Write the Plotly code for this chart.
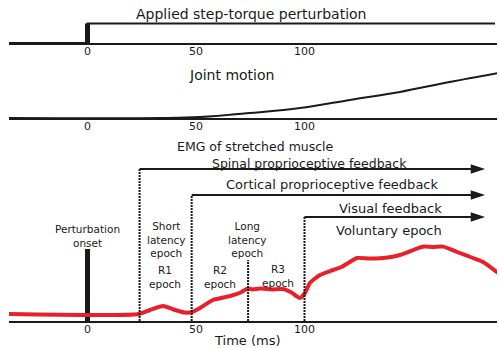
import plotly.graph_objects as go

# ---------------- data ----------------
tick_vals = [0, 50, 100]
tick_text = ["0", "50", "100"]

# applied torque (normalised step at t = 0)
torque_t = [-36.2, 0, 0, 187.8]
torque_v = [0, 0, 1, 1]

# joint motion (normalised)
joint_t = [-36.2, 33.4, 51.8, 74.9, 97.9, 120.9, 144.0, 166.8, 189.2]
joint_v = [0, 0, 0.02, 0.11, 0.22, 0.40, 0.58, 0.80, 1.00]

# EMG of stretched muscle (a.u.)
emg_t = [-37.1, 23.7, 28.8, 34.8, 40.3, 44.9, 48.2, 51.8, 57.8, 65.7, 70.0, 74.0,
         76.0, 79.5, 85.0, 90.1, 94.0, 97.9, 100.2, 102.5, 107.1, 113.1, 117.0,
         120.9, 124.2, 130.0, 136.2, 140.0, 144.0, 151.8, 155.0, 159.3, 163.9,
         170.3, 177.6, 182.3, 189.2]
emg_v = [0.35, 0.35, 0.55, 0.75, 0.55, 0.42, 0.45, 0.65, 1.05, 1.25, 1.40, 1.62,
         1.58, 1.62, 1.58, 1.60, 1.42, 1.15, 1.40, 1.90, 2.30, 2.55, 2.70,
         2.95, 3.15, 3.12, 3.15, 3.20, 3.30, 3.62, 3.72, 3.70, 3.72,
         3.45, 3.15, 2.95, 2.40]

onset_t = 0
onset_h = 3.6
# epoch boundaries as drawn (ms)
spinal_t = 24
cortical_t = 48
r3_t = 74
visual_t = 100
arrow_end_t = 183.2
feedback_levels = [7.6, 6.3, 5.2]
r3_top = 3.05

W, H = 499, 348
INK = "#1a1a1a"
FONT = "DejaVu Sans"


def px2x(px):
    return px / W


def px2y(py):
    return 1 - py / H


fig = go.Figure()

# top panel: step torque
fig.add_trace(go.Scatter(x=torque_t, y=torque_v, mode="lines",
                         line=dict(color=INK, width=2), xaxis="x", yaxis="y"))
fig.add_trace(go.Scatter(x=[onset_t, onset_t], y=[0, 1], mode="lines",
                         line=dict(color=INK, width=5), xaxis="x", yaxis="y"))

# middle panel: joint motion
fig.add_trace(go.Scatter(x=joint_t, y=joint_v, mode="lines", line_shape="spline",
                         line=dict(color=INK, width=2), xaxis="x2", yaxis="y2"))

# bottom panel: EMG
fig.add_trace(go.Scatter(x=[onset_t, onset_t], y=[0, onset_h], mode="lines",
                         line=dict(color=INK, width=5), xaxis="x3", yaxis="y3"))

# feedback onsets: dotted verticals + arrows
starts = [spinal_t, cortical_t, visual_t]
shapes = []
for t0, yl in zip(starts, feedback_levels):
    shapes.append(dict(type="line", xref="x3", yref="y3", x0=t0, x1=t0, y0=0, y1=yl,
                       line=dict(color=INK, width=2, dash="2px,1px")))
    shapes.append(dict(type="line", xref="x3", yref="y3", x0=t0, x1=arrow_end_t - 3,
                       y0=yl, y1=yl, line=dict(color=INK, width=2)))
shapes.append(dict(type="line", xref="x3", yref="y3", x0=r3_t, x1=r3_t, y0=0, y1=r3_top,
                   line=dict(color=INK, width=2, dash="2px,1px")))

fig.add_trace(go.Scatter(x=[arrow_end_t] * 3, y=feedback_levels, mode="markers",
                         marker=dict(symbol="arrow", angle=90, size=15, color=INK,
                                     line=dict(width=0)),
                         xaxis="x3", yaxis="y3", cliponaxis=False))

fig.add_trace(go.Scatter(x=emg_t, y=emg_v, mode="lines", line_shape="spline",
                         line=dict(color="#e8202a", width=4, smoothing=0.6),
                         xaxis="x3", yaxis="y3"))

texts = [
    ("Applied step-torque perturbation", 251, 14, 14),
    ("Joint motion", 231, 75, 14),
    ("EMG of stretched muscle", 256, 146, 12.5),
    ("Spinal proprioceptive feedback", 309, 163, 12.5),
    ("Cortical proprioceptive feedback", 332, 184, 13),
    ("Visual feedback", 390, 208, 13),
    ("Voluntary epoch", 389, 230, 13),
    ("Perturbation<br>onset", 87, 236, 10.5),
    ("Short<br>latency<br>epoch", 166, 239, 10.5),
    ("Long<br>latency<br>epoch", 247, 239, 10.5),
    ("R1<br>epoch", 165, 277, 10.5),
    ("R2<br>epoch", 220, 277, 10.5),
    ("R3<br>epoch", 278, 276, 10.5),
    ("Time (ms)", 247, 340, 13),
]
annotations = []
for s, x, y, fs in texts:
    annotations.append(dict(x=px2x(x), y=px2y(y), xref="paper", yref="paper",
                            text=s, showarrow=False, xanchor="center", yanchor="middle",
                            font=dict(family=FONT, size=fs, color=INK)))

xr = [(9 - 87.5) / 2.17, (497 - 87.5) / 2.17]
xdom = [9 / W, 497 / W]
xcommon = dict(range=xr, domain=xdom, showline=True, linecolor=INK, linewidth=2,
               tickvals=tick_vals, ticktext=tick_text, ticks="", showgrid=False,
               zeroline=False, tickfont=dict(family=FONT, size=11, color=INK),
               ticklabelstandoff=-3)
ycommon = dict(visible=False, showgrid=False, zeroline=False, fixedrange=True)

fig.update_layout(
    width=W, height=H, margin=dict(l=0, r=0, t=0, b=0),
    paper_bgcolor="white", plot_bgcolor="white", showlegend=False,
    xaxis=dict(anchor="y", **xcommon),
    xaxis2=dict(anchor="y2", **xcommon),
    xaxis3=dict(anchor="y3", **xcommon),
    yaxis=dict(domain=[px2y(43), px2y(4)], range=[0, 2], **ycommon),
    yaxis2=dict(domain=[px2y(118), px2y(63)], range=[0, 55 / 45], **ycommon),
    yaxis3=dict(domain=[px2y(321), px2y(141)], range=[0, 9], **ycommon),
    shapes=shapes, annotations=annotations,
)

fig.write_html("out.html")
